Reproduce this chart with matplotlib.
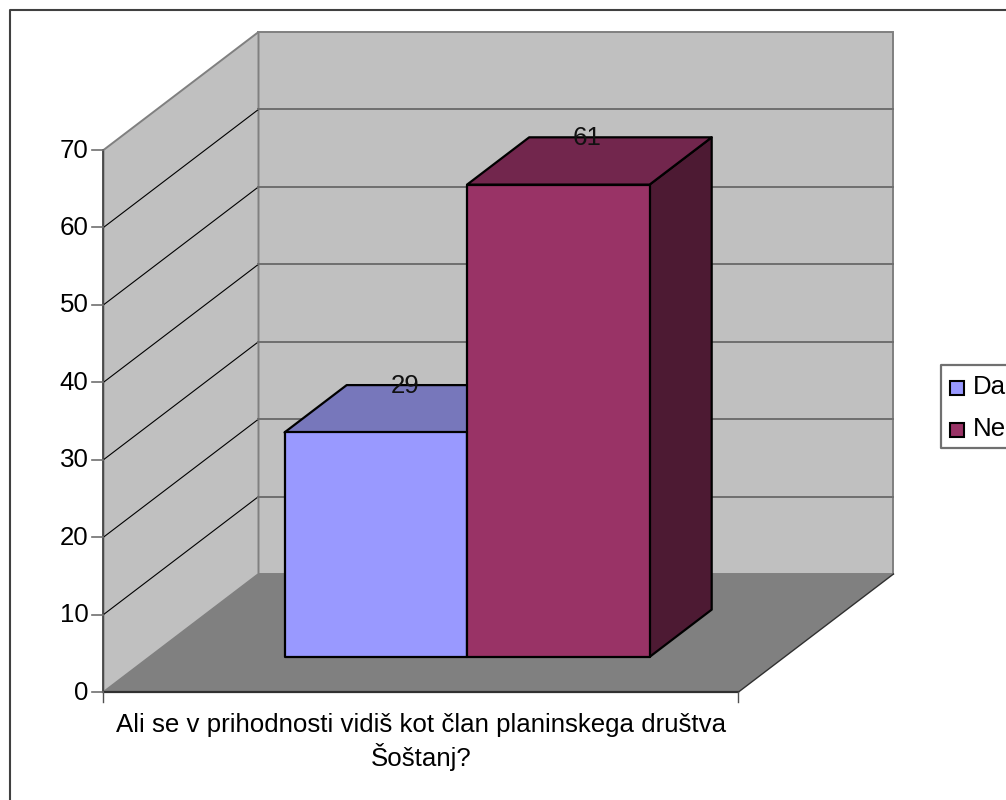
import matplotlib
matplotlib.use("Agg")
import matplotlib.pyplot as plt
from matplotlib.patches import Polygon, Rectangle

plt.rcParams['font.family'] = ['Liberation Sans', 'DejaVu Sans']

# Data
series_names = ["Da", "Ne"]
series_values = [29, 61]
tick_values = [0, 10, 20, 30, 40, 50, 60, 70]
category_label = "Ali se v prihodnosti vidiš kot član planinskega društva\nŠoštanj?"

# Colours: front, top, side
face_colors = {"Da": ("#9999FF", "#7777BB", "#4D4D80"), "Ne": ("#993366", "#72264D", "#4D1A33")}
WALL, FLOOR, GRID = "#C0C0C0", "#808080", "#6E6E6E"

# Projection: front-left origin, unit scales, depth offset (pixels)
X0, Y0 = 103.5, 692.0
WIDTH = 635.0
PER_UNIT = 542.0 / 70
DX, DY = 155.0, -118.0
FONT = 18.6


def proj(u, v, d):
    """u: 0-1 along category axis, v: value, d: 0-1 depth."""
    return (X0 + u * WIDTH + d * DX, Y0 - v * PER_UNIT + d * DY)


fig = plt.figure(figsize=(10.06, 8.0), dpi=100, facecolor="white")
ax = fig.add_axes([0, 0, 1, 1])
ax.set_xlim(0, 1006)
ax.set_ylim(800, 0)
ax.axis("off")

# Outer chart border (right and bottom lie beyond the image)
ax.plot([10, 10, 1006], [800, 10, 10], color="#404040", lw=1.5, zorder=1)

vmax = max(tick_values)
# Walls and floor
ax.add_patch(Polygon([proj(0, 0, 1), proj(1, 0, 1), proj(1, vmax, 1), proj(0, vmax, 1)],
                     fc=WALL, ec="#808080", lw=1.4, zorder=2))
ax.add_patch(Polygon([proj(0, 0, 0), proj(0, 0, 1), proj(0, vmax, 1), proj(0, vmax, 0)],
                     fc=WALL, ec="#808080", lw=1.4, zorder=2))
ax.add_patch(Polygon([proj(0, 0, 0), proj(1, 0, 0), proj(1, 0, 1), proj(0, 0, 1)],
                     fc=FLOOR, ec="none", zorder=3))

# Gridlines
for t in tick_values[1:-1]:
    a, b, c = proj(0, t, 0), proj(0, t, 1), proj(1, t, 1)
    ax.plot([a[0], b[0]], [a[1], b[1]], color="black", lw=0.8, zorder=3)
    ax.plot([b[0], c[0]], [b[1], c[1]], color=GRID, lw=1.4, zorder=3)

# Axis lines
p0, p1, p2 = proj(0, 0, 0), proj(1, 0, 0), proj(0, vmax, 0)
ax.plot([p0[0], p2[0]], [p0[1], p2[1]], color="#404040", lw=1.2, zorder=4)
ax.plot([p0[0], p1[0]], [p0[1], p1[1]], color="#303030", lw=1.6, zorder=4)
e = proj(1, 0, 1)
ax.plot([p1[0], e[0]], [p1[1], e[1]], color="#303030", lw=1.0, zorder=4)
ax.plot([p0[0], p0[0]], [p0[1], p0[1] + 10], color="#505050", lw=1.0, zorder=4)
ax.plot([p1[0], p1[0]], [p1[1], p1[1] + 10], color="#505050", lw=1.0, zorder=4)

# Ticks and labels
for t in tick_values:
    x, y = proj(0, t, 0)
    ax.plot([x - 11, x], [y, y], color="#707070", lw=1.2, zorder=4)
    ax.text(x - 15, y - 2, str(t), ha="right", va="center_baseline", fontsize=FONT, color="black", zorder=6)

ax.text(421, 742, category_label, ha="center", va="center", fontsize=FONT,
        linespacing=1.3, color="black", zorder=6)

# Bars
BAR_U = [0.2126, 0.5, 0.7874]
D_FRONT, D_BACK = 0.297, 0.698
for i, (name, val) in enumerate(zip(series_names, series_values)):
    u0, u1 = BAR_U[i], BAR_U[i + 1]
    front, top, side = face_colors[name]
    edge = dict(ec="black", lw=1.6, joinstyle="round", zorder=5 + i * 0.1)
    ax.add_patch(Polygon([proj(u1, 0, D_FRONT), proj(u1, 0, D_BACK), proj(u1, val, D_BACK), proj(u1, val, D_FRONT)],
                         fc=side, **edge))
    ax.add_patch(Polygon([proj(u0, val, D_FRONT), proj(u1, val, D_FRONT), proj(u1, val, D_BACK), proj(u0, val, D_BACK)],
                         fc=top, **edge))
    ax.add_patch(Polygon([proj(u0, 0, D_FRONT), proj(u1, 0, D_FRONT), proj(u1, val, D_FRONT), proj(u0, val, D_FRONT)],
                         fc=front, **edge))
    lx, ly = proj((u0 + u1) / 2, val, D_BACK)
    ax.text(lx - 33, ly - 2, str(val), ha="center", va="center_baseline", fontsize=FONT, color="#111111", zorder=7)

# Legend
ax.plot([1006, 941, 941, 1006], [365, 365, 448, 448], color="#707070", lw=1.6, zorder=5)
for name, cy in zip(series_names, [388, 430]):
    ax.add_patch(Rectangle((950.5, cy - 7), 14, 14, fc=face_colors[name][0], ec="black", lw=1.5, zorder=6))
    ax.text(973, cy - 1, name, ha="left", va="center", fontsize=FONT, color="black", zorder=6, clip_on=True)

fig.savefig("out.png", dpi=100, facecolor="white")
